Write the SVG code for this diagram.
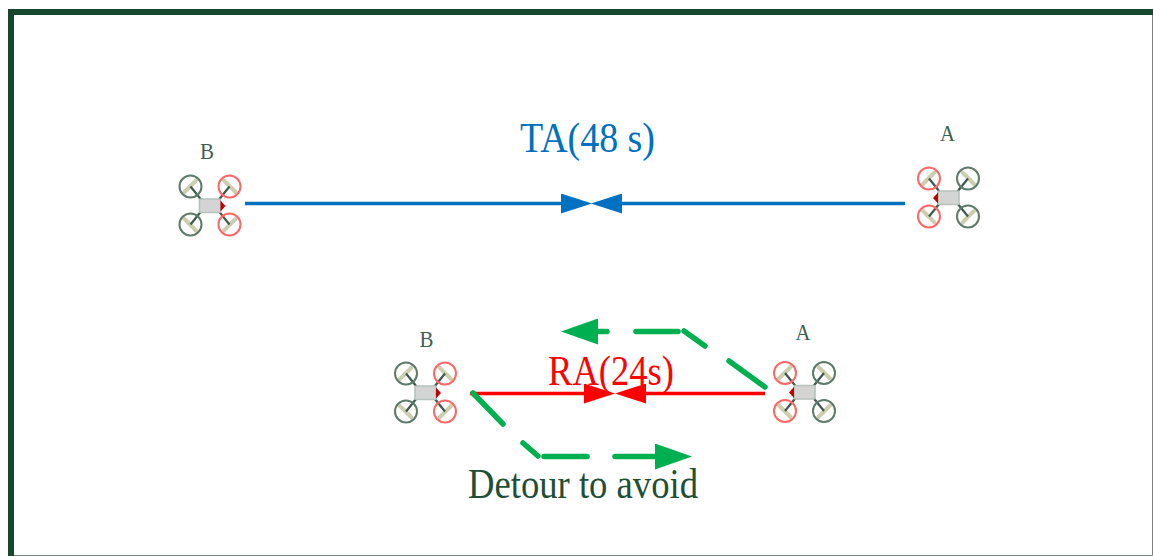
<svg xmlns="http://www.w3.org/2000/svg" width="1153" height="556" viewBox="0 0 1153 556">
<style>
text{font-family:"Liberation Serif","Times New Roman",serif}
.lbl{font-size:23px;fill:#3f5f4e;text-anchor:middle}
.blue{stroke:#0070c0;stroke-width:3.500;fill:none}
.red{stroke:#ff0000;stroke-width:3.500;fill:none}
.grn{stroke:#00b050;stroke-width:5.500;fill:none;stroke-linecap:round;stroke-linejoin:round}
.arm{stroke:#3f5a4c;stroke-width:2.200}
.blade{stroke:#cdcdaf;stroke-width:4;stroke-linecap:round}
.rd{fill:none;stroke:#ff6666;stroke-width:2}
.dk{fill:none;stroke:#5e7a6a;stroke-width:2}
.body{fill:#d4d4d4;stroke:#b4c2ba;stroke-width:1.600}
</style>
<defs>
<g id="drone">
<line class="blade" x1="-25.500" y1="-13.500" x2="-14" y2="-25"/><line class="blade" x1="14" y1="-25" x2="25.500" y2="-13.500"/>
<line class="blade" x1="-25.500" y1="13.500" x2="-14" y2="25"/><line class="blade" x1="14" y1="25" x2="25.500" y2="13.500"/>
<line class="arm" x1="-9" y1="-6" x2="-19.500" y2="-19"/><line class="arm" x1="9" y1="-6" x2="19.500" y2="-19"/>
<line class="arm" x1="-9" y1="6" x2="-19.500" y2="19"/><line class="arm" x1="9" y1="6" x2="19.500" y2="19"/>
<circle class="dk" cx="-19.500" cy="-19" r="11"/><circle class="rd" cx="19.500" cy="-19" r="11"/>
<circle class="dk" cx="-19.500" cy="19" r="11"/><circle class="rd" cx="19.500" cy="19" r="11"/>
<rect class="body" x="-10.500" y="-6.500" width="21" height="13.500" rx="1"/>
<polygon points="10.500,-5 15.500,0.500 10.500,6" fill="#c00000"/>
</g>
<marker id="ab" markerUnits="userSpaceOnUse" markerWidth="32" markerHeight="20" refX="0" refY="10" orient="auto"><path d="M0 0L31 10L0 20z" fill="#0070c0"/></marker>
<marker id="ar" markerUnits="userSpaceOnUse" markerWidth="32" markerHeight="20" refX="0" refY="10" orient="auto"><path d="M0 0L31 10L0 20z" fill="#ff0000"/></marker>
<marker id="ag" markerUnits="userSpaceOnUse" markerWidth="38" markerHeight="26" refX="0" refY="13" orient="auto"><path d="M0 0L37 13L0 26z" fill="#00b050"/></marker>
</defs>
<rect width="1153" height="556" fill="#fff"/>
<g id="frame">
<path d="M1152.500 12V555.500H11" fill="none" stroke="#6f8a7c" stroke-width="1"/>
<path d="M11 556V12H1153" fill="none" stroke="#17472c" stroke-width="6"/>
</g>
<g id="connectors">
<path class="blue" d="M245 203.500H561" marker-end="url(#ab)"/>
<path class="blue" d="M905 203.500H622" marker-end="url(#ab)"/>
<path class="red" d="M470 393.500H584" marker-end="url(#ar)"/>
<path class="red" d="M765 393.500H646" marker-end="url(#ar)"/>
<path class="grn" d="M473 393L503 424"/>
<path class="grn" d="M523 443L538 456"/>
<path class="grn" d="M544 456.500H587"/>
<path class="grn" d="M615 456.500H655" marker-end="url(#ag)"/>
<path class="grn" d="M765 387L729 361"/>
<path class="grn" d="M705 346L684 331"/>
<path class="grn" d="M678 331.500H636"/>
<path class="grn" d="M607 331.500H598" marker-end="url(#ag)"/>
</g>
<g id="drone-b-top"><use href="#drone" x="210" y="205.500"/><text class="lbl" x="200" y="159" text-anchor="start" style="text-anchor:start" textLength="14" lengthAdjust="spacingAndGlyphs">B</text></g>
<g id="drone-a-top"><use href="#drone" transform="translate(948.500 197.500) scale(-1 1)"/><text class="lbl" x="940" y="141" style="text-anchor:start" textLength="15" lengthAdjust="spacingAndGlyphs">A</text></g>
<g id="drone-b-bottom"><use href="#drone" x="425.500" y="392.500"/><text class="lbl" x="419.500" y="347" style="text-anchor:start" textLength="14" lengthAdjust="spacingAndGlyphs">B</text></g>
<g id="drone-a-bottom"><use href="#drone" transform="translate(804.500 392) scale(-1 1)"/><text class="lbl" x="795.500" y="340" style="text-anchor:start" textLength="15" lengthAdjust="spacingAndGlyphs">A</text></g>
<g id="labels">
<text x="520" y="152" font-size="43" fill="#0070c0" textLength="135" lengthAdjust="spacingAndGlyphs">TA(48 s)</text>
<text x="548" y="385" font-size="43" fill="#ff0000" textLength="126" lengthAdjust="spacingAndGlyphs">RA(24s)</text>
<text x="468" y="498" font-size="43" fill="#1f4f36" textLength="230" lengthAdjust="spacingAndGlyphs">Detour to avoid</text>
</g>
</svg>
